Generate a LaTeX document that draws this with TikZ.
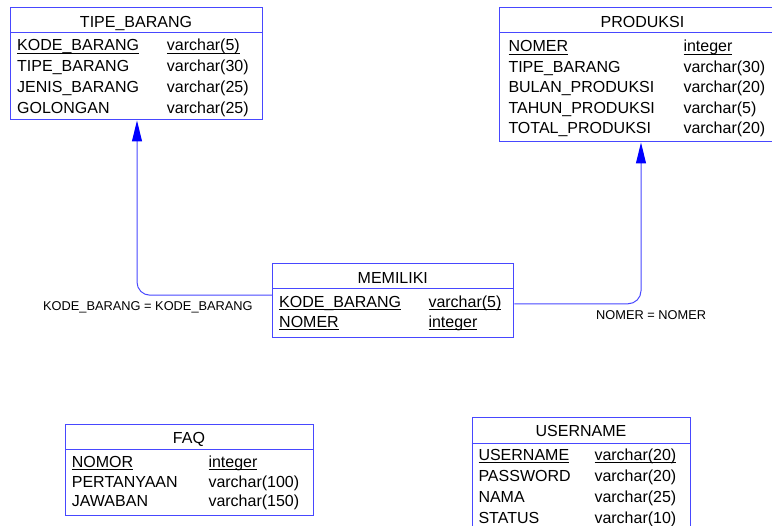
\documentclass[tikz,border=0pt]{standalone}
\usepackage{fontspec}
\setmainfont{Liberation Sans}
\usetikzlibrary{arrows.meta}
\definecolor{tblue}{RGB}{72,72,255}
\definecolor{ablue}{RGB}{0,0,255}
\newcommand{\pkey}[1]{\setbox0\hbox{#1}\rlap{\rule[-2.4pt]{\wd0}{0.8pt}}\box0}
\begin{document}
\begin{tikzpicture}[x=1pt,y=-1pt,
  tbl/.style={draw=tblue, line width=1pt, anchor=north west, inner sep=0pt},
  txt/.style={anchor=base west, inner sep=0pt, font=\fontsize{16}{18}\selectfont, text=black},
  hdr/.style={anchor=base, inner sep=0pt, font=\fontsize{16}{18}\selectfont, text=black},
  lbl/.style={anchor=base west, inner sep=0pt, font=\fontsize{12.8}{14}\selectfont, text=black},
  sep/.style={draw=tblue, line width=1pt},
  conn/.style={draw=tblue, line width=1pt, rounded corners=13pt, -{Triangle[length=21pt,width=10pt,color=ablue]}}]
\fill[white] (0,0) rectangle (772,526);
\useasboundingbox (0,0) rectangle (772,526);

% TIPE_BARANG
\node[tbl, minimum width=252pt, minimum height=112.2pt] (tipe) at (10,7.3) {};
\draw[sep] (10,32.7) -- (262,32.7);
\node[hdr] (tipeh) at (136,27.3) {TIPE\_BARANG};
\node[txt] (t1a) at (17,51) {\pkey{KODE\_BARANG}};
\node[txt] (t1b) at (166.7,51) {\pkey{varchar(5)}};
\node[txt] (t2a) at (17,72) {TIPE\_BARANG};
\node[txt] (t2b) at (166.7,72) {varchar(30)};
\node[txt] (t3a) at (17,93) {JENIS\_BARANG};
\node[txt] (t3b) at (166.7,93) {varchar(25)};
\node[txt] (t4a) at (17,114) {GOLONGAN};
\node[txt] (t4b) at (166.7,114) {varchar(25)};

% PRODUKSI
\node[tbl, minimum width=287pt, minimum height=134.2pt] (produksi) at (499,7.3) {};
\draw[sep] (499,32.3) -- (786,32.3);
\node[hdr] (prodh) at (642.5,27.3) {PRODUKSI};
\node[txt] (p1a) at (508.3,52) {\pkey{NOMER}};
\node[txt] (p1b) at (683.3,52) {\pkey{integer}};
\node[txt] (p2a) at (508.3,72.5) {TIPE\_BARANG};
\node[txt] (p2b) at (683.3,72.5) {varchar(30)};
\node[txt] (p3a) at (508.3,93) {BULAN\_PRODUKSI};
\node[txt] (p3b) at (683.3,93) {varchar(20)};
\node[txt] (p4a) at (508.3,113.3) {TAHUN\_PRODUKSI};
\node[txt] (p4b) at (683.3,113.3) {varchar(5)};
\node[txt] (p5a) at (508.3,133.5) {TOTAL\_PRODUKSI};
\node[txt] (p5b) at (683.3,133.5) {varchar(20)};

% MEMILIKI
\node[tbl, minimum width=241pt, minimum height=74pt] (memiliki) at (272.3,263.3) {};
\draw[sep] (272.3,288.3) -- (513.3,288.3);
\node[hdr] (memh) at (392.8,283.3) {MEMILIKI};
\node[txt] (m1a) at (279,307.3) {\pkey{KODE\_BARANG}};
\node[txt] (m1b) at (428.3,307.3) {\pkey{varchar(5)}};
\node[txt] (m2a) at (279,327.3) {\pkey{NOMER}};
\node[txt] (m2b) at (428.3,327.3) {\pkey{integer}};

% FAQ
\node[tbl, minimum width=248.3pt, minimum height=91pt] (faq) at (65,424) {};
\draw[sep] (65,450) -- (313.3,450);
\node[hdr] (faqh) at (189,443.3) {FAQ};
\node[txt] (f1a) at (71.7,467.8) {\pkey{NOMOR}};
\node[txt] (f1b) at (208.3,467.8) {\pkey{integer}};
\node[txt] (f2a) at (71.7,487.5) {PERTANYAAN};
\node[txt] (f2b) at (208.3,487.5) {varchar(100)};
\node[txt] (f3a) at (71.7,507) {JAWABAN};
\node[txt] (f3b) at (208.3,507) {varchar(150)};

% USERNAME
\node[tbl, minimum width=218.3pt, minimum height=125pt] (username) at (471.7,417.3) {};
\draw[sep] (471.7,443.3) -- (690,443.3);
\node[hdr] (userh) at (581,437) {USERNAME};
\node[txt] (u1a) at (478.3,460.7) {\pkey{USERNAME}};
\node[txt] (u1b) at (594.3,460.7) {\pkey{varchar(20)}};
\node[txt] (u2a) at (478.3,481.7) {PASSWORD};
\node[txt] (u2b) at (594.3,481.7) {varchar(20)};
\node[txt] (u3a) at (478.3,503) {NAMA};
\node[txt] (u3b) at (594.3,503) {varchar(25)};
\node[txt] (u4a) at (478.3,524) {STATUS};
\node[txt] (u4b) at (594.3,524) {varchar(10)};

% connectors
\coordinate (cl) at (137,0);
\coordinate (cr) at (641,0);
\draw[conn] ([yshift=5.6pt]memiliki.west) -| (tipe.south -| cl);
\draw[conn] ([yshift=-3pt]memiliki.east) -| (produksi.south -| cr);
\node[lbl] (lab1) at (43,310.7) {KODE\_BARANG = KODE\_BARANG};
\node[lbl] (lab2) at (596,319.3) {NOMER = NOMER};
\end{tikzpicture}
\end{document}
